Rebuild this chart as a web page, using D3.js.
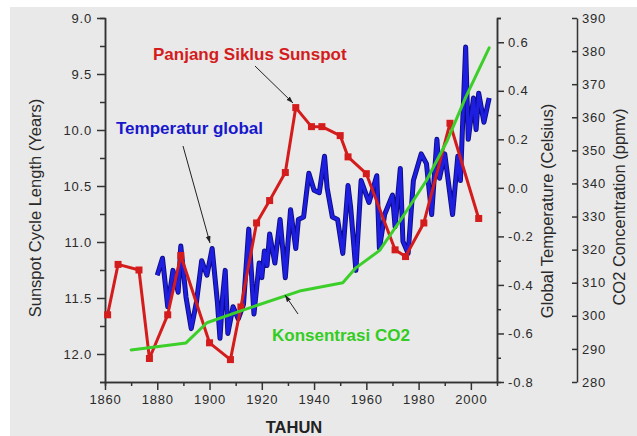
<!DOCTYPE html>
<html>
<head>
<meta charset="utf-8">
<script src="https://cdn.jsdelivr.net/npm/d3@7"></script>
<style>
  html, body { margin: 0; padding: 0; background: #fff; }
  svg { display: block; font-family: "Liberation Sans", Arial, sans-serif; }
</style>
</head>
<body>
<svg id="chart" width="637" height="436"></svg>
<script>
// Sunspot cycle length (red, left axis)
const sunYears  = [1861, 1865, 1873, 1877, 1884, 1889, 1900, 1908, 1912, 1918, 1923, 1929, 1933, 1939, 1943, 1950, 1953, 1960, 1971, 1975, 1982, 1992, 2003];
const sunLength = [11.65, 11.2, 11.25, 12.04, 11.65, 11.12, 11.9, 12.05, 11.58, 10.83, 10.63, 10.38, 9.8, 9.97, 9.97, 10.05, 10.24, 10.39, 11.07, 11.13, 10.83, 9.94, 10.79];

// Global temperature (blue, inner right axis)
const tempYears  = [1880, 1882, 1884, 1886, 1888, 1889, 1891, 1893, 1895, 1897, 1899, 1901, 1903, 1904, 1905, 1906, 1907, 1909, 1911, 1913,
                    1915, 1917, 1919, 1920, 1921, 1922, 1923, 1925, 1927, 1929, 1931, 1933, 1934, 1936, 1938, 1940, 1942, 1944, 1945, 1947,
                    1949, 1951, 1953, 1954, 1956, 1958, 1961, 1964, 1965, 1967, 1970, 1971, 1973, 1974, 1976, 1978, 1981, 1983, 1985, 1987,
                    1988, 1990, 1993, 1995, 1996, 1998, 1999, 2001, 2002, 2003, 2005, 2007];
const tempValues = [-0.36, -0.29, -0.49, -0.34, -0.43, -0.24, -0.45, -0.58, -0.47, -0.30, -0.36, -0.25, -0.47, -0.62, -0.45, -0.34, -0.60, -0.49, -0.54, -0.48,
                    -0.17, -0.52, -0.31, -0.37, -0.26, -0.32, -0.19, -0.31, -0.13, -0.37, -0.09, -0.25, -0.13, -0.12, 0.06, -0.01, -0.02, 0.13, 0.00, -0.12,
                    -0.13, -0.27, 0.01, -0.08, -0.34, 0.03, -0.06, 0.05, -0.25, -0.11, -0.03, -0.16, 0.08, -0.22, -0.27, 0.03, 0.14, 0.10, -0.11, 0.20,
                    0.04, 0.14, -0.11, 0.13, 0.03, 0.58, 0.20, 0.37, 0.24, 0.39, 0.27, 0.37];

// CO2 concentration (green, outer right axis)
const co2Years  = [1870, 1891, 1899, 1912, 1935, 1951, 1956, 1965, 1973, 1983, 1991, 1998, 2007];
const co2Values = [289.7, 291.8, 297.9, 301.5, 307.6, 310, 314.5, 319.7, 328.8, 340.9, 353, 366, 381];

const xTicks    = [1860, 1880, 1900, 1920, 1940, 1960, 1980, 2000];
const sunTicks  = [9.0, 9.5, 10.0, 10.5, 11.0, 11.5, 12.0];
const tempTicks = [-0.8, -0.6, -0.4, -0.2, 0.0, 0.2, 0.4, 0.6];
const co2Ticks  = [280, 290, 300, 310, 320, 330, 340, 350, 360, 370, 380, 390];

const svg = d3.select('#chart');
const L = 105, R = 497, T = 18, B = 382;

svg.append('rect').attr('x', 10).attr('y', 7).attr('width', 627).attr('height', 429).attr('fill', '#e9e9e9');

const x     = d3.scaleLinear().domain([1860, 2010]).range([L, R]);
const ySun  = d3.scaleLinear().domain([9.0, 12.25]).range([T, B]);
const yTemp = d3.scaleLinear().domain([-0.8, 0.7]).range([B, T]);
const yCo2  = d3.scaleLinear().domain([280, 390]).range([B, T]);

const axisCol = '#333';
function styleAxis(g) {
    g.selectAll('path, line').attr('stroke', axisCol).attr('stroke-width', 1.5);
    g.selectAll('text').attr('fill', '#2a2a2a').attr('font-size', 13).attr('letter-spacing', 0.8);
}

// x axis
svg.append('g').attr('transform', `translate(0,${B})`)
    .call(d3.axisBottom(x).tickValues(d3.range(1870, 2010, 20)).tickSize(4).tickFormat(''))
    .call(styleAxis);
svg.append('g').attr('transform', `translate(0,${B})`)
    .call(d3.axisBottom(x).tickValues(xTicks).tickSize(8).tickSizeOuter(0).tickPadding(5).tickFormat(d3.format('d')))
    .call(styleAxis);

// left axis
svg.append('g').attr('transform', `translate(${L},0)`)
    .call(d3.axisLeft(ySun).tickValues(d3.range(9.25, 12.3, 0.5)).tickSize(5).tickFormat(''))
    .call(styleAxis);
svg.append('g').attr('transform', `translate(${L},0)`)
    .call(d3.axisLeft(ySun).tickValues(sunTicks).tickSize(8).tickSizeOuter(0).tickPadding(5).tickFormat(d => d.toFixed(1)))
    .call(styleAxis);

// temperature axis
svg.append('g').attr('transform', `translate(${R},0)`)
    .call(d3.axisRight(yTemp).tickValues(d3.range(-0.7, 0.75, 0.2)).tickSize(4).tickFormat(''))
    .call(styleAxis);
svg.append('g').attr('transform', `translate(${R},0)`)
    .call(d3.axisRight(yTemp).tickValues(tempTicks).tickSize(7).tickSizeOuter(0).tickPadding(4)
        .tickFormat(d => (Math.abs(d) < 1e-9 ? 0 : d).toFixed(1)))
    .call(styleAxis);

// CO2 axis
svg.append('g').attr('transform', `translate(577,0)`)
    .call(d3.axisRight(yCo2).tickValues(co2Ticks).tickSize(-5).tickSizeOuter(0).tickPadding(5).tickFormat(d3.format('d')))
    .call(styleAxis);

// axis titles
const titleSize = 16.5;
svg.append('text').attr('transform', 'translate(41,208) rotate(-90)')
    .attr('text-anchor', 'middle').attr('font-size', titleSize).attr('fill', '#2a2a2a')
    .text('Sunspot Cycle Length (Years)');
svg.append('text').attr('transform', 'translate(553,211) rotate(-90)')
    .attr('text-anchor', 'middle').attr('font-size', titleSize).attr('fill', '#2a2a2a')
    .text('Global Temperature (Celsius)');
svg.append('text').attr('transform', 'translate(625,207) rotate(-90)')
    .attr('text-anchor', 'middle').attr('font-size', titleSize).attr('fill', '#2a2a2a')
    .text('CO2 Concentration (ppmv)');
svg.append('text').attr('x', 294).attr('y', 433)
    .attr('text-anchor', 'middle').attr('font-size', 16.5).attr('font-weight', 'bold').attr('fill', '#222')
    .text('TAHUN');

// series
const temp = tempYears.map((yr, i) => ({ x: yr, y: tempValues[i] }));
const sun  = sunYears.map((yr, i) => ({ x: yr, y: sunLength[i] }));
const co2  = co2Years.map((yr, i) => ({ x: yr, y: co2Values[i] }));

const tempLine = d3.line().x(d => x(d.x)).y(d => yTemp(d.y));
svg.append('path').datum(temp).attr('d', tempLine)
    .attr('fill', 'none').attr('stroke', '#0c0c80').attr('stroke-width', 5).attr('stroke-linejoin', 'round');
svg.append('path').datum(temp).attr('d', tempLine)
    .attr('fill', 'none').attr('stroke', '#1e1ee0').attr('stroke-width', 3.2).attr('stroke-linejoin', 'round');

const sunLine = d3.line().x(d => x(d.x)).y(d => ySun(d.y));
svg.append('path').datum(sun).attr('d', sunLine)
    .attr('fill', 'none').attr('stroke', '#d41c1c').attr('stroke-width', 3).attr('stroke-linejoin', 'round');
svg.selectAll('.sq').data(sun).join('rect')
    .attr('class', 'sq')
    .attr('x', d => x(d.x) - 3.5).attr('y', d => ySun(d.y) - 3.5)
    .attr('width', 7).attr('height', 7).attr('fill', '#d41c1c');

const co2Line = d3.line().x(d => x(d.x)).y(d => yCo2(d.y));
svg.append('path').datum(co2).attr('d', co2Line)
    .attr('fill', 'none').attr('stroke', '#3ccf2a').attr('stroke-width', 3).attr('stroke-linejoin', 'round').attr('stroke-linecap', 'round');

// annotation arrows
svg.append('defs').append('marker')
    .attr('id', 'arr').attr('viewBox', '0 0 10 10').attr('refX', 10).attr('refY', 5)
    .attr('markerWidth', 7).attr('markerHeight', 7).attr('orient', 'auto')
    .append('path').attr('d', 'M0,1.5L10,5L0,8.5Z').attr('fill', '#222');

const arrows = [
    [[255, 66], [293, 103]],
    [[183, 146], [210, 243]],
    [[298, 314], [285, 295]]
];
arrows.forEach(([a, b]) => {
    svg.append('line').attr('x1', a[0]).attr('y1', a[1]).attr('x2', b[0]).attr('y2', b[1])
        .attr('stroke', '#222').attr('stroke-width', 1).attr('marker-end', 'url(#arr)');
});

const labels = [
    { text: 'Panjang Siklus Sunspot', x: 153, y: 60, color: '#d41c1c' },
    { text: 'Temperatur global', x: 116, y: 134, color: '#1717cc' },
    { text: 'Konsentrasi CO2', x: 272, y: 341, color: '#33cc22' }
];
labels.forEach(l => {
    svg.append('text').attr('x', l.x).attr('y', l.y)
        .attr('font-size', 17).attr('font-weight', 'bold').attr('fill', l.color)
        .text(l.text);
});
</script>
</body>
</html>
